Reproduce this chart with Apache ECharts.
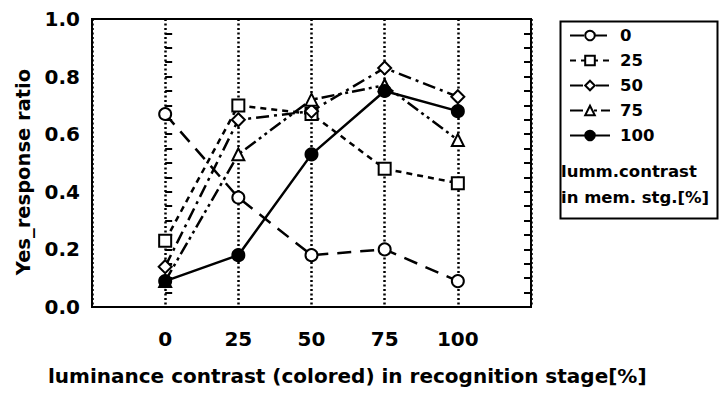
<!DOCTYPE html>
<html>
<head>
<meta charset="utf-8">
<script src="https://cdn.jsdelivr.net/npm/echarts@6/dist/echarts.min.js"></script>
<style>
  html, body { margin: 0; padding: 0; background: #fff; }
  #chart { width: 720px; height: 393px; }
</style>
</head>
<body>
<div id="chart"></div>
<script>
// recognition-stage luminance contrast [%]
const stages = [0, 25, 50, 75, 100];
// yes-response ratio per memory-stage contrast
const mem0 = [0.67, 0.38, 0.18, 0.20, 0.09];
const mem25 = [0.23, 0.70, 0.67, 0.48, 0.43];
const mem50 = [0.14, 0.65, 0.68, 0.83, 0.73];
const mem75 = [0.09, 0.53, 0.72, 0.77, 0.58];
const mem100 = [0.09, 0.18, 0.53, 0.75, 0.68];
const yTicks = [0, 0.2, 0.4, 0.6, 0.8, 1.0];

const WIDE = '"DejaVu Sans", sans-serif';
const chart = echarts.init(document.getElementById('chart'), null, { renderer: 'svg' });

const pairs = (ys) => stages.map((x, i) => [x, ys[i]]);

function makeSeries(name, ys, symbol, fill, dash) {
  return {
    name: name,
    type: 'line',
    data: pairs(ys),
    symbol: symbol,
    symbolSize: symbol === 'diamond' ? 13 : 12,
    showSymbol: true,
    lineStyle: { color: '#000', width: 2.5, type: dash },
    itemStyle: { color: fill, borderColor: '#000', borderWidth: 2 },
    emphasis: { disabled: true },
    animation: false
  };
}

const option = {
  animation: false,
  grid: {
    left: 92, right: 189, top: 19, bottom: 86,
    show: true, borderColor: '#000', borderWidth: 2
  },
  legend: {
    orient: 'vertical',
    left: 564, top: 22,
    itemWidth: 40, itemHeight: 12, itemGap: 8,
    textStyle: { fontFamily: WIDE, fontWeight: 'bold', fontSize: 16.5, color: '#000', lineHeight: 17, padding: [0, 0, 0, 5] },
    data: ['0', '25', '50', '75', '100']
  },
  xAxis: {
    type: 'value',
    min: -25, max: 125, interval: 25,
    axisLine: { show: false },
    axisTick: { show: false },
    axisLabel: {
      fontFamily: WIDE, fontWeight: 'bold', fontSize: 20, color: '#000', margin: 22,
      formatter: (v) => (v >= 0 && v <= 100 ? String(v) : '')
    },
    splitLine: { show: true, lineStyle: { color: '#000', width: 2.5, type: [2, 2.5] } }
  },
  yAxis: [
    {
      type: 'value', min: 0, max: 1, interval: 0.2,
      axisLine: { show: false },
      axisTick: { show: true, inside: true, length: 7, lineStyle: { color: '#000', width: 2 } },
      minorTick: { show: true, splitNumber: 4, length: 7, lineStyle: { color: '#000', width: 2 } },
      axisLabel: {
        fontFamily: WIDE, fontWeight: 'bold', fontSize: 20, color: '#000', margin: 12,
        formatter: (v) => (yTicks.includes(+v.toFixed(2)) ? v.toFixed(1) : '')
      },
      splitLine: { show: false }
    },
    {
      type: 'value', min: 0, max: 1, interval: 0.2, position: 'right',
      axisLine: { show: false },
      axisTick: { show: true, inside: true, length: 7, lineStyle: { color: '#000', width: 2 } },
      minorTick: { show: true, splitNumber: 4, length: 7, lineStyle: { color: '#000', width: 2 } },
      axisLabel: { show: false },
      splitLine: { show: false }
    }
  ],
  graphic: [
    {
      type: 'rect', left: 558, top: 19,
      shape: { width: 157, height: 197 },
      style: { fill: 'none', stroke: '#000', lineWidth: 2 }
    },
    {
      type: 'text', left: 561, top: 158,
      style: { text: 'lumm.contrast\nin mem. stg.[%]', font: 'bold 16.5px ' + WIDE, fill: '#000', lineHeight: 26 }
    },
    {
      type: 'text', left: 48, top: 366,
      style: { text: 'luminance contrast (colored) in recognition stage[%]', font: 'bold 20px ' + WIDE, fill: '#000' }
    },
    {
      type: 'text', x: 23, y: 172, rotation: Math.PI / 2,
      style: {
        text: 'Yes_response ratio', font: 'bold 19.5px ' + WIDE, fill: '#000',
        align: 'center', verticalAlign: 'middle'
      }
    }
  ],
  series: [
    makeSeries('0', mem0, 'circle', '#fff', [14, 9]),
    makeSeries('25', mem25, 'rect', '#fff', [6, 5]),
    makeSeries('50', mem50, 'diamond', '#fff', [13, 5, 3, 5]),
    makeSeries('75', mem75, 'triangle', '#fff', [13, 4, 3, 4, 3, 4]),
    makeSeries('100', mem100, 'circle', '#000', 'solid')
  ]
};

chart.setOption(option);
</script>
</body>
</html>
